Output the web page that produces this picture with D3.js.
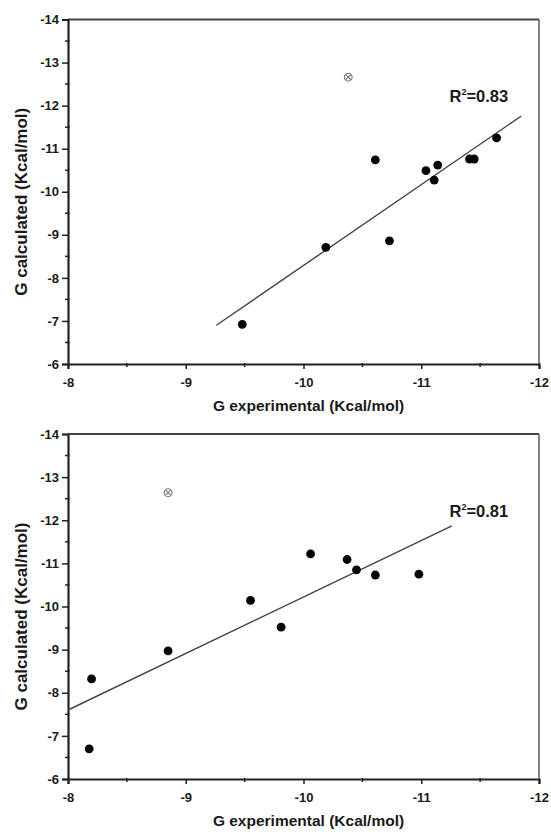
<!DOCTYPE html>
<html>
<head>
<meta charset="utf-8">
<script src="https://cdn.jsdelivr.net/npm/d3@7"></script>
<style>
  html, body { margin: 0; padding: 0; background: #fff; }
  svg { display: block; }
  text { font-family: "Liberation Sans", Arial, sans-serif; font-weight: bold; fill: #1a1a1a; }
</style>
</head>
<body>
<svg id="chart" width="551" height="832"></svg>
<script>
// Upper panel: experimental vs calculated binding energies
const expTop  = [-9.48, -10.19, -10.61, -10.73, -11.04, -11.14, -11.11, -11.41, -11.45, -11.64];
const calcTop = [-6.92, -8.71, -10.74, -8.86, -10.49, -10.62, -10.27, -10.76, -10.76, -11.25];
const outlierExpTop  = [-10.38];
const outlierCalcTop = [-12.66];
const fitXTop = [-9.26, -11.85];
const fitYTop = [-6.90, -11.76];
const r2Top = "0.83";

// Lower panel
const expBottom  = [-8.20, -8.18, -8.85, -9.81, -9.55, -10.06, -10.37, -10.45, -10.61, -10.98];
const calcBottom = [-8.32, -6.70, -8.97, -9.52, -10.14, -11.22, -11.09, -10.85, -10.73, -10.75];
const outlierExpBottom  = [-8.85];
const outlierCalcBottom = [-12.64];
const fitXBottom = [-8.00, -11.26];
const fitYBottom = [-7.60, -11.87];
const r2Bottom = "0.81";

// Shared axis settings
const xTicks = [-8, -9, -10, -11, -12];
const yTicks = [-6, -7, -8, -9, -10, -11, -12, -13, -14];
const xMinor = [-8.5, -9.5, -10.5, -11.5];
const yMinor = [-6.5, -7.5, -8.5, -9.5, -10.5, -11.5, -12.5, -13.5];
const xTitle = "G experimental (Kcal/mol)";
const yTitle = "G calculated (Kcal/mol)";
const labelPos = [-11.24, -12.08];

const svg = d3.select("#chart");
const left = 68, right = 539;
const plain = d => String(d);   // keep the ASCII hyphen as minus sign

function panel(top, bottom, ex, cy, oex, ocy, fx, fy, r2) {
  const x = d3.scaleLinear().domain([-8, -12]).range([left, right]);
  const y = d3.scaleLinear().domain([-6, -14]).range([bottom, top]);
  const g = svg.append("g");

  // frame: top and right edges
  g.append("line").attr("x1", left).attr("x2", right).attr("y1", top).attr("y2", top)
    .attr("stroke", "#444").attr("stroke-width", 2);
  g.append("line").attr("x1", right).attr("x2", right).attr("y1", top).attr("y2", bottom)
    .attr("stroke", "#666").attr("stroke-width", 1.6);

  // x axis
  const xa = g.append("g").attr("transform", `translate(0,${bottom})`)
    .call(d3.axisBottom(x).tickValues(xTicks).tickFormat(plain).tickSize(5).tickPadding(9));
  xa.select(".domain").attr("stroke", "#222").attr("stroke-width", 2.2);
  xa.selectAll(".tick line").attr("stroke", "#222").attr("stroke-width", 1.5);
  xa.selectAll(".tick text").attr("font-size", 13).attr("font-family", "Liberation Sans, Arial, sans-serif")
    .attr("font-weight", "bold").attr("fill", "#1a1a1a");
  xa.selectAll(".minor").data(xMinor).enter().append("line")
    .attr("x1", d => x(d)).attr("x2", d => x(d)).attr("y1", -1).attr("y2", 3)
    .attr("stroke", "#222").attr("stroke-width", 1.5);

  // y axis
  const ya = g.append("g").attr("transform", `translate(${left},0)`)
    .call(d3.axisLeft(y).tickValues(yTicks).tickFormat(plain).tickSize(6).tickPadding(3));
  ya.select(".domain").attr("stroke", "#222").attr("stroke-width", 2.2);
  ya.selectAll(".tick line").attr("stroke", "#222").attr("stroke-width", 1.5);
  ya.selectAll(".tick text").attr("font-size", 13).attr("font-family", "Liberation Sans, Arial, sans-serif")
    .attr("font-weight", "bold").attr("fill", "#1a1a1a");
  ya.selectAll(".minor").data(yMinor).enter().append("line")
    .attr("y1", d => y(d)).attr("y2", d => y(d)).attr("x1", -3).attr("x2", 1.5)
    .attr("stroke", "#222").attr("stroke-width", 1.5);

  // axis titles
  g.append("text").attr("x", (left + right) / 2 + 5).attr("y", bottom + 47)
    .attr("text-anchor", "middle").attr("font-size", 15.5).text(xTitle);
  g.append("text").attr("transform", `translate(27,${(top + bottom) / 2 + 10}) rotate(-90)`)
    .attr("text-anchor", "middle").attr("font-size", 17).text(yTitle);

  // regression line
  g.append("line")
    .attr("x1", x(fx[0])).attr("y1", y(fy[0])).attr("x2", x(fx[1])).attr("y2", y(fy[1]))
    .attr("stroke", "#444").attr("stroke-width", 1.4);

  // data points
  g.selectAll(".pt").data(ex.map((v, i) => [v, cy[i]])).enter().append("circle")
    .attr("cx", d => x(d[0])).attr("cy", d => y(d[1])).attr("r", 4.4).attr("fill", "#000");

  // excluded point: circled cross
  const o = g.selectAll(".out").data(oex.map((v, i) => [v, ocy[i]])).enter().append("g")
    .attr("transform", d => `translate(${x(d[0])},${y(d[1])})`)
    .attr("stroke", "#777").attr("stroke-width", 1.1).attr("fill", "none");
  o.append("circle").attr("r", 3.9);
  o.append("line").attr("x1", -2.7).attr("y1", -2.7).attr("x2", 2.7).attr("y2", 2.7);
  o.append("line").attr("x1", -2.7).attr("y1", 2.7).attr("x2", 2.7).attr("y2", -2.7);

  // R² annotation
  const t = g.append("text").attr("x", x(labelPos[0])).attr("y", y(labelPos[1])).attr("font-size", 16.5);
  t.append("tspan").text("R");
  t.append("tspan").attr("font-size", 9).attr("dy", -7).text("2");
  t.append("tspan").attr("dy", 7).text("=" + r2);
}

panel(19.5, 364, expTop, calcTop, outlierExpTop, outlierCalcTop, fitXTop, fitYTop, r2Top);
panel(434, 779, expBottom, calcBottom, outlierExpBottom, outlierCalcBottom, fitXBottom, fitYBottom, r2Bottom);
</script>
</body>
</html>
